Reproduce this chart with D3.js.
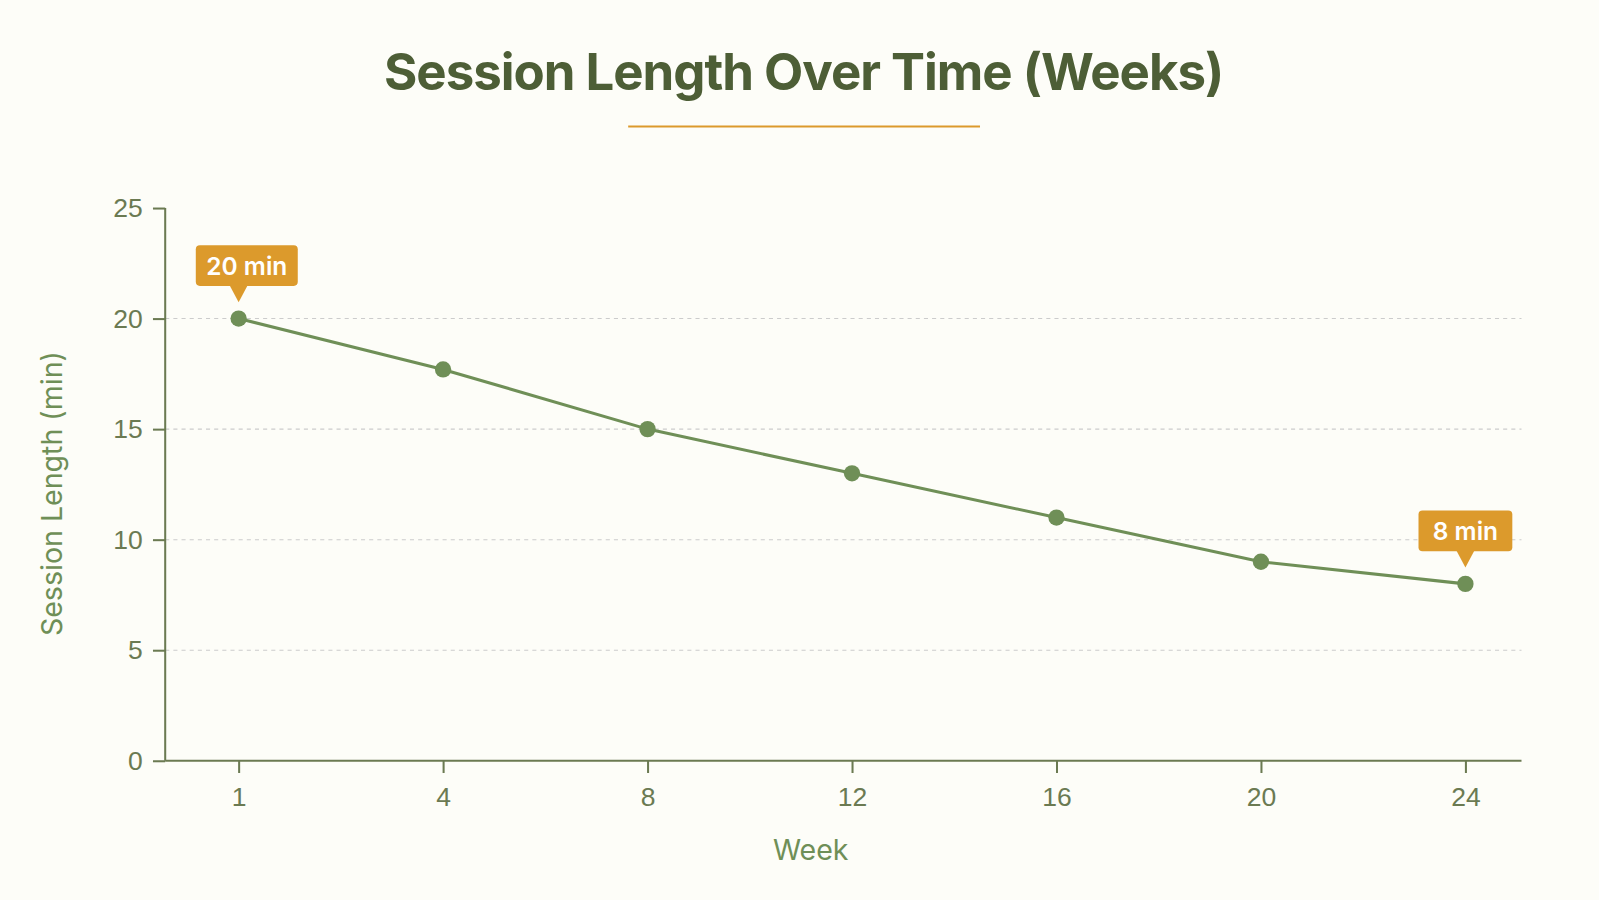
<!DOCTYPE html>
<html><head><meta charset="utf-8">
<script src="https://cdn.jsdelivr.net/npm/d3@7"></script>
<style>body{margin:0;background:#fdfdf8;}svg{display:block;font-family:Inter,"Open Sans",sans-serif;}</style>
</head><body><svg id="c" width="1599" height="900"></svg>
<script>
const weeks = ["1","4","8","12","16","20","24"];
const minutes = [20, 17.7, 15, 13, 11, 9, 8];
const yTicks = [0,5,10,15,20,25];
const callouts = [{i:0,label:"20 min"},{i:6,label:"8 min"}];

const root = d3.select("#c");
root.append("rect").attr("width",1599).attr("height",900).attr("fill","#fdfdf8");
const svg = root.append("g").attr("transform","scale("+(1599/1568)+")");
const green="#6f8f57", dark="#4d5e36", orange="#dc9a2c", axisC="#6b7a52";
const x = d3.scalePoint().domain(weeks).range([234,1437]);
const y = d3.scaleLinear().domain([0,25]).range([746,204]);

svg.append("text").attr("x",788).attr("y",88).attr("text-anchor","middle")
 .attr("font-size",50).attr("font-weight",700).attr("fill",dark).attr("letter-spacing",-1).text("Session Length Over Time (Weeks)");
svg.append("line").attr("x1",616).attr("x2",961).attr("y1",124).attr("y2",124).attr("stroke",orange).attr("stroke-width",2);

svg.append("g").selectAll("line").data(yTicks.filter(d=>d>0&&d<25)).join("line")
 .attr("x1",162).attr("x2",1492).attr("y1",d=>y(d)).attr("y2",d=>y(d))
 .attr("stroke","#ccc").attr("stroke-dasharray","4,4");

const ya = svg.append("g").attr("transform","translate(162,0)")
 .call(d3.axisLeft(y).tickValues(yTicks).tickSize(12).tickPadding(10));
const xa = svg.append("g").attr("transform","translate(0,746)")
 .call(d3.axisBottom(x).tickSize(12).tickPadding(14));
xa.select(".domain").attr("d","M162,0H1492");
[ya,xa].forEach(a=>{a.selectAll("path,line").attr("stroke",axisC).attr("stroke-width",2);
 a.selectAll("text").attr("fill",axisC).attr("font-size",26);});
ya.select(".domain").attr("d","M0,204V746");

svg.append("text").attr("x",795).attr("y",843).attr("text-anchor","middle").attr("font-size",28).attr("fill",green).text("Week");
svg.append("text").attr("transform","translate(61,484) rotate(-90)").attr("text-anchor","middle").attr("font-size",28).attr("fill",green).text("Session Length (min)");

svg.append("path").datum(minutes).attr("fill","none").attr("stroke",green).attr("stroke-width",3)
 .attr("d",d3.line().x((d,i)=>x(weeks[i])).y(d=>y(d)));
svg.append("g").selectAll("circle").data(minutes).join("circle")
 .attr("cx",(d,i)=>x(weeks[i])).attr("cy",d=>y(d)).attr("r",8).attr("fill",green);

callouts.forEach(c=>{
 const cx=x(weeks[c.i])+(c.i===0?8:0), cy=y(minutes[c.i]);
 const w=c.i===0?100:92, h=40, top=cy-72;
 const g=svg.append("g");
 g.append("rect").attr("x",cx-w/2).attr("y",top).attr("width",w).attr("height",h).attr("rx",4).attr("fill",orange);
 const px=x(weeks[c.i]);
 g.append("path").attr("d",`M${px-9},${top+h-1}L${px},${top+h+16}L${px+9},${top+h-1}Z`).attr("fill",orange);
 g.append("text").attr("x",cx).attr("y",top+29).attr("text-anchor","middle").attr("font-size",24).attr("font-weight",600).attr("fill","#fff").text(c.label);
});
</script></body></html>
